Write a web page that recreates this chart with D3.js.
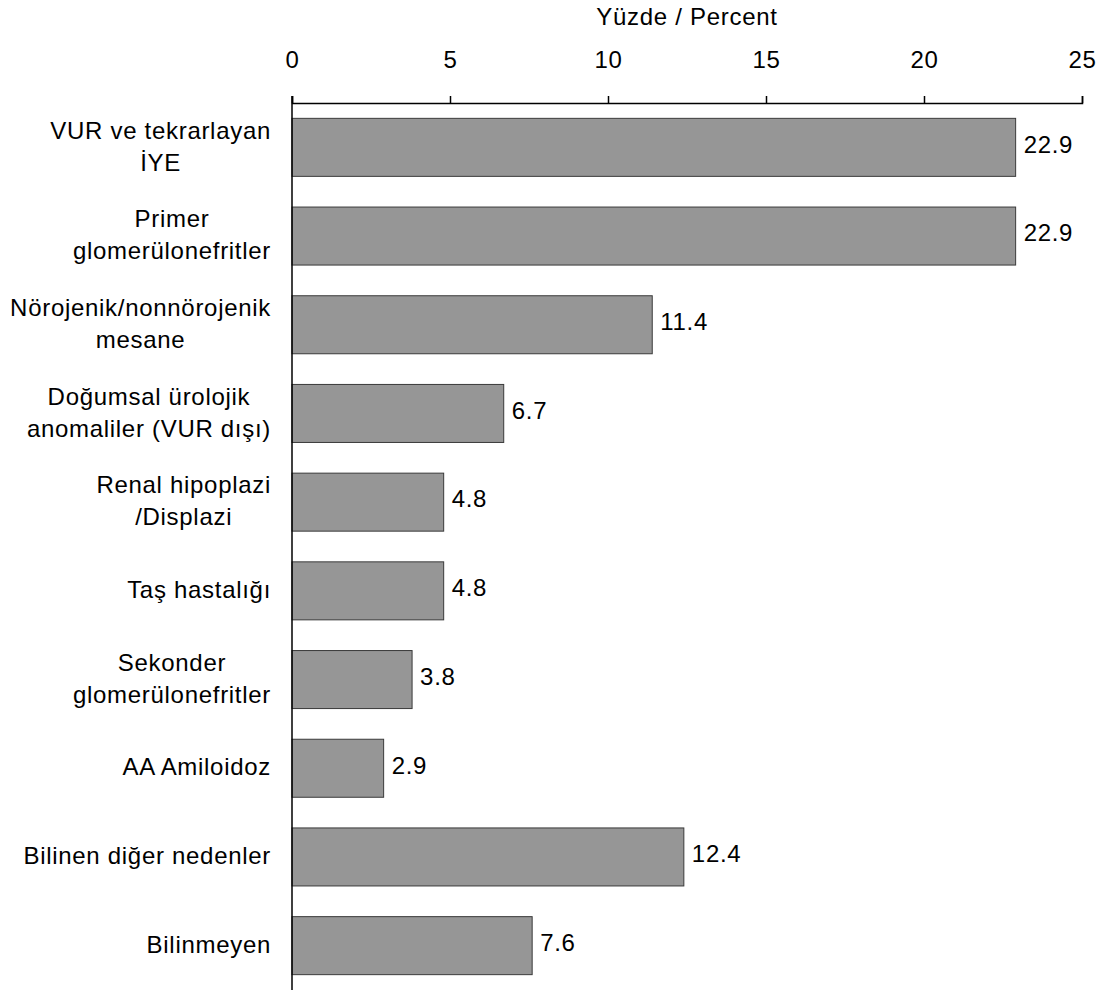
<!DOCTYPE html>
<html><head><meta charset="utf-8">
<script src="https://cdn.jsdelivr.net/npm/d3@7"></script>
<style>body{margin:0;background:#fff}svg{display:block}text{font-family:"Liberation Sans",Arial,sans-serif;fill:#000;letter-spacing:0.7px}</style>
</head><body><svg id="c" width="1105" height="990"></svg>
<script>
const categories = [
  ["VUR ve tekrarlayan","İYE"],
  ["Primer","glomerülonefritler"],
  ["Nörojenik/nonnörojenik","mesane"],
  ["Doğumsal ürolojik","anomaliler (VUR dışı)"],
  ["Renal hipoplazi","/Displazi"],
  ["Taş hastalığı"],
  ["Sekonder","glomerülonefritler"],
  ["AA Amiloidoz"],
  ["Bilinen diğer nedenler"],
  ["Bilinmeyen"]
];
const values = [22.9, 22.9, 11.4, 6.7, 4.8, 4.8, 3.8, 2.9, 12.4, 7.6];
const tickValues = [0, 5, 10, 15, 20, 25];
const axisTitle = "Yüzde / Percent";

const FS = 24;
const svg = d3.select("#c");
const x = d3.scaleLinear().domain([0, 25]).range([292, 1082]);
const y = d3.scaleBand().domain(d3.range(categories.length)).range([103, 990]).paddingInner(0.346).paddingOuter(0.173);

// bars
svg.append("g").selectAll("rect").data(values).join("rect")
  .attr("x", x(0)).attr("y", (d,i)=>y(i))
  .attr("width", d=>x(d)-x(0)).attr("height", y.bandwidth())
  .attr("fill", "#969696").attr("stroke", "#3a3a3a").attr("stroke-width", 1);

// value labels
svg.append("g").selectAll("text").data(values).join("text")
  .attr("x", d=>x(d)+8).attr("y", (d,i)=>y(i)+y.bandwidth()/2)
  .attr("dy", "0.22em").attr("font-size", FS)
  .text(d=>d.toFixed(1));

// top axis
const ax = svg.append("g").attr("transform", "translate(0,103)")
  .call(d3.axisTop(x).tickValues(tickValues).tickSize(7).tickSizeOuter(7).tickPadding(28).tickFormat(d3.format("d")));
ax.select(".domain").attr("stroke", "#000").attr("stroke-width", 1.5);
ax.selectAll(".tick line").attr("stroke", "#000").attr("stroke-width", 1.5);
ax.selectAll(".tick text").attr("font-size", FS).attr("font-family", "Liberation Sans, Arial, sans-serif").attr("fill", "#000");

// left axis line
svg.append("line").attr("x1", x(0)).attr("x2", x(0)).attr("y1", 96).attr("y2", 990)
  .attr("stroke", "#000").attr("stroke-width", 1.5);

// axis title
svg.append("text").attr("x", (x(0)+x(25))/2).attr("y", 25).attr("text-anchor", "middle")
  .attr("font-size", FS).text(axisTitle);

// category labels
const lg = svg.append("g");
const lh = 32;
categories.forEach((lines, i) => {
  const cy = y(i) + y.bandwidth()/2;
  const t = lg.append("text").attr("font-size", FS);
  lines.forEach((ln, j) => {
    t.append("tspan").attr("x", 0).attr("y", cy + (j - (lines.length-1)/2)*lh).attr("dy", "0.3em").text(ln);
  });
});
// center-align each label block, right edge at 271
lg.selectAll("text").each(function(){
  const t = d3.select(this);
  const spans = t.selectAll("tspan").nodes();
  const maxW = d3.max(spans, s=>s.getComputedTextLength());
  const cx = 271 - maxW/2;
  t.attr("text-anchor", "middle");
  spans.forEach(s => d3.select(s).attr("x", cx));
});
</script></body></html>
